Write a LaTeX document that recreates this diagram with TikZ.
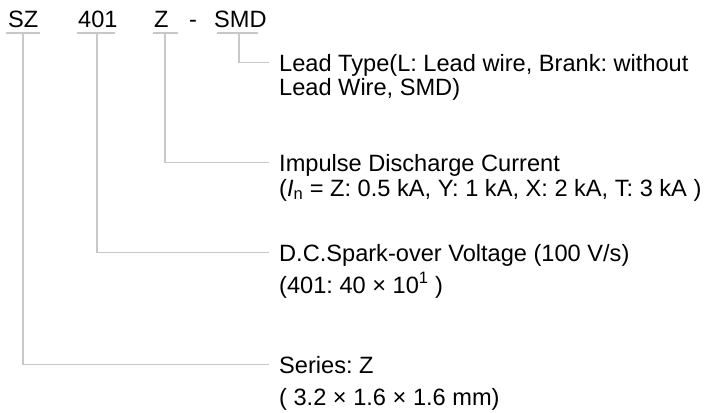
\documentclass[tikz,border=0pt]{standalone}
\usepackage{fontspec}
\setmainfont{Liberation Sans}
\frenchspacing
\definecolor{conncol}{HTML}{C8C8C8}
\tikzset{
  conn/.style={draw=conncol, line width=1.5pt},
  lab/.style={anchor=base west, inner sep=0pt, font=\fontsize{23.6}{24}\selectfont},
  head/.style={lab, text height=16.8pt, text depth=0pt},
}
\begin{document}
\begin{tikzpicture}[x=1pt,y=-1pt]
\useasboundingbox (0,0) rectangle (708,412);
% top code
\node[lab] (sz) at (8,28) {SZ};
\node[lab] (num) at (78,28) {401};
\node[lab] (zz) at (154,28) {Z};
\node[lab] (dash) at (189,28) {-};
\node[lab] (smd) at (214,28) {SMD};
% underlines
\coordinate (szl) at (6,33); \coordinate (szr) at (40,33);
\coordinate (nl) at (77,33); \coordinate (nr) at (115,33);
\coordinate (zl) at (153,33); \coordinate (zr) at (178,33);
\coordinate (sl) at (217,33); \coordinate (sr) at (258,33);
\draw[conn] (szl) -- (szr);
\draw[conn] (nl) -- (nr);
\draw[conn] (zl) -- (zr);
\draw[conn] (sl) -- (sr);
\coordinate (szd) at (23,33);
\coordinate (nd) at (97,33);
\coordinate (zd) at (165,33);
\coordinate (sd) at (239,33);
% descriptions
\node[head] (lead) at (279,71) {Lead Type(L: Lead wire, Brank: without};
\node[lab] (lead2) at (279,95) {Lead Wire, SMD)};
\node[head] (imp) at (279,171) {Impulse Discharge Current};
\node[lab] (imp2) at (279,196) {(\textit{I}\textsubscript{n} = Z: 0.5 kA, Y: 1 kA, X: 2 kA, T: 3 kA )};
\node[head] (dc) at (279,261) {D.C.Spark-over Voltage (100 V/s)};
\node[lab] (dc2) at (279,293) {(401: 40 × 10\textsuperscript{1} )};
\node[head] (ser) at (279,373) {Series: Z};
\node[lab] (ser2) at (279,405) {( 3.2 × 1.6 × 1.6 mm)};
% connectors
\draw[conn] (sd) |- ([xshift=-10pt]lead.west);
\draw[conn] (zd) |- ([xshift=-10pt]imp.west);
\draw[conn] (nd) |- ([xshift=-10pt]dc.west);
\draw[conn] (szd) |- ([xshift=-10pt]ser.west);
\end{tikzpicture}
\end{document}
